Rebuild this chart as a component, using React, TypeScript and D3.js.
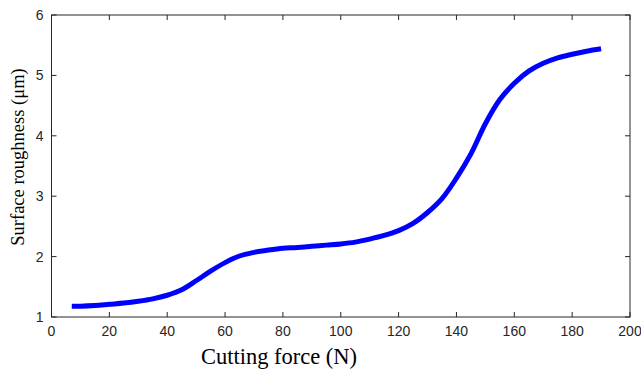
import React from "react";
import * as d3 from "d3";

const forceN = [7, 10, 15, 20, 25, 30, 35, 40, 45, 50, 55, 60, 65, 70, 75, 80, 85, 90, 95, 100, 105, 110, 115, 120, 125, 130, 135, 140, 145, 150, 155, 160, 165, 170, 175, 180, 185, 190];
const roughness = [1.18, 1.18, 1.19, 1.21, 1.23, 1.26, 1.3, 1.36, 1.45, 1.6, 1.76, 1.9, 2.01, 2.07, 2.11, 2.14, 2.15, 2.17, 2.19, 2.21, 2.24, 2.29, 2.35, 2.43, 2.55, 2.73, 2.96, 3.3, 3.7, 4.2, 4.6, 4.87, 5.07, 5.2, 5.29, 5.35, 5.4, 5.44];
const xTicks = [0, 20, 40, 60, 80, 100, 120, 140, 160, 180, 200];
const yTicks = [1, 2, 3, 4, 5, 6];

const W = 641, H = 371;
const L = 51.5, R = 630, T = 15, B = 317;

export default function App() {
  const x = d3.scaleLinear().domain([0, 200]).range([L, R]);
  const y = d3.scaleLinear().domain([1, 6]).range([B, T]);
  const pts = forceN.map((f, i) => [f, roughness[i]] as [number, number]);
  const line = d3.line<[number, number]>().x(d => x(d[0])).y(d => y(d[1])).curve(d3.curveCatmullRom.alpha(0.5));
  const axisColor = "#262626";
  const tl = 5;
  const sans = "Liberation Sans, Arial, sans-serif";
  const serif = "Liberation Serif, Times New Roman, serif";
  return (
    <svg width={W} height={H} style={{ position: "absolute", left: 0, top: 0, background: "#fff" }}>
      <rect x={0} y={0} width={W} height={H} fill="#fff" />
      <path d={line(pts) || ""} fill="none" stroke="#0000ff" strokeWidth={5} strokeLinejoin="round" />
      <rect x={L} y={T} width={R - L} height={B - T} fill="none" stroke={axisColor} strokeWidth={1} />
      {xTicks.map(t => (
        <g key={"x" + t}>
          <line x1={x(t)} x2={x(t)} y1={B} y2={B - tl} stroke={axisColor} />
          <line x1={x(t)} x2={x(t)} y1={T} y2={T + tl} stroke={axisColor} />
          <text x={x(t)} y={336} textAnchor="middle" fontFamily={sans} fontSize={14} fill="#262626">{t}</text>
        </g>
      ))}
      {yTicks.map(t => (
        <g key={"y" + t}>
          <line x1={L} x2={L + tl} y1={y(t)} y2={y(t)} stroke={axisColor} />
          <line x1={R} x2={R - tl} y1={y(t)} y2={y(t)} stroke={axisColor} />
          <text x={L - 8} y={y(t)} dy="0.36em" textAnchor="end" fontFamily={sans} fontSize={14} fill="#262626">{t}</text>
        </g>
      ))}
      <text x={279} y={364} textAnchor="middle" fontFamily={serif} fontSize={22.5} fill="#000">Cutting force (N)</text>
      <text transform={`translate(23.5,157) rotate(-90)`} textAnchor="middle" fontFamily={serif} fontSize={18.5} fill="#000">Surface roughness (μm)</text>
    </svg>
  );
}
